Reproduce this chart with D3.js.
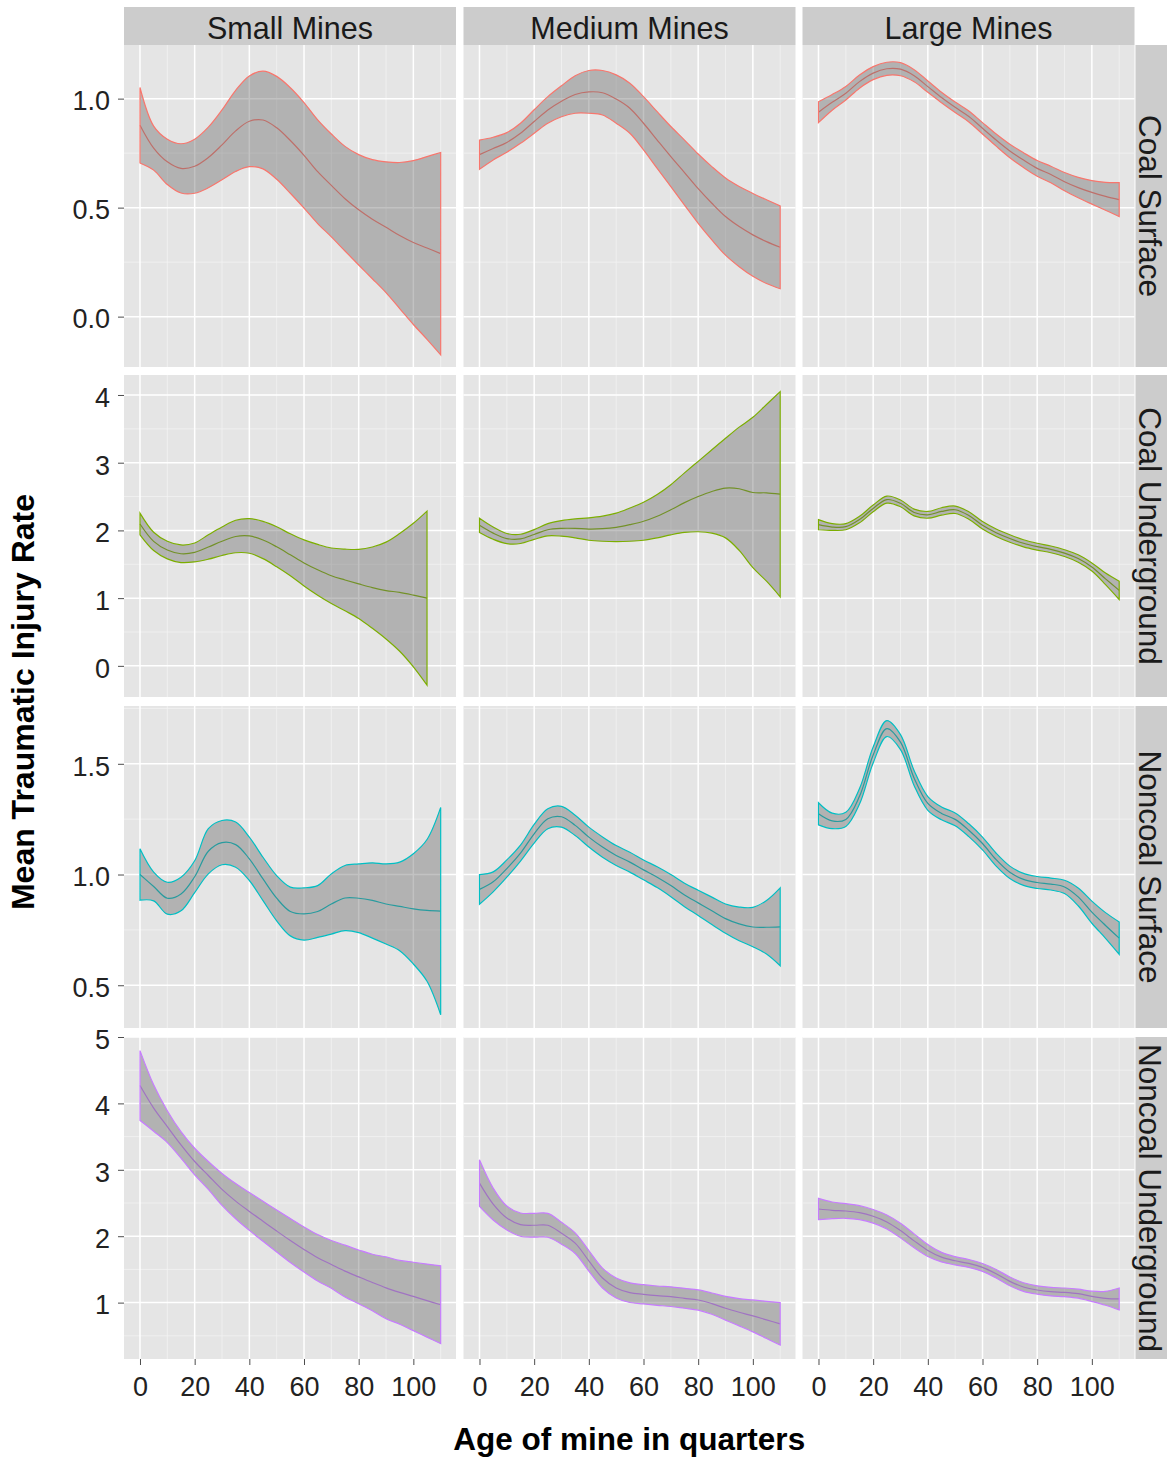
<!DOCTYPE html>
<html>
<head>
<meta charset="utf-8">
<script src="https://cdn.jsdelivr.net/npm/d3@7"></script>
<style>
  body { margin: 0; background: #fff; }
  text { font-family: "Liberation Sans", Arial, sans-serif; }
</style>
</head>
<body>
<div id="chart"></div>
<script>
// Ages (quarters) the smooths were read at, every 5 quarters
var ages = d3.range(0, 111, 5);
// coal underground / small mines stops at 105
var agesShort = d3.range(0, 106, 5);

var sizes = ["Small Mines", "Medium Mines", "Large Mines"];
var mineTypes = ["Coal Surface", "Coal Underground", "Noncoal Surface", "Noncoal Underground"];
var typeColors = ["#F8766D", "#7CAE00", "#00BFC4", "#C77CFF"];

var xTicks = [0, 20, 40, 60, 80, 100];
var yTicks = [[0, 0.5, 1.0], [0, 1, 2, 3, 4], [0.5, 1.0, 1.5], [1, 2, 3, 4, 5]];
var yDomains = [[-0.231, 1.246], [-0.46, 4.295], [0.307, 1.761], [0.151, 5.0]];

// fitted mean rate + half width of the grey band
var coalSurfaceSmallFit  = [.878,.773,.71,.68,.69,.73,.788,.852,.896,.902,.866,.808,.74,.665,.602,.541,.49,.447,.41,.372,.34,.315,.289];
var coalSurfaceSmallBand = [.173,.101,.104,.113,.124,.139,.16,.186,.208,.224,.236,.242,.242,.238,.236,.24,.253,.273,.3,.335,.376,.419,.464];
var coalSurfaceMediumFit  = [.743,.771,.799,.841,.895,.948,.988,1.019,1.031,1.027,.998,.956,.887,.81,.734,.661,.587,.52,.459,.413,.375,.344,.318];
var coalSurfaceMediumBand = [.067,.052,.045,.046,.054,.061,.071,.086,.098,.102,.111,.115,.122,.13,.138,.149,.159,.168,.177,.184,.19,.192,.19];
var coalSurfaceLargeFit  = [.938,.983,1.025,1.078,1.117,1.137,1.135,1.105,1.055,1.005,.96,.918,.864,.81,.76,.718,.68,.652,.619,.592,.57,.552,.537];
var coalSurfaceLargeBand = [.048,.036,.031,.03,.03,.03,.03,.028,.026,.024,.024,.025,.026,.028,.031,.034,.036,.038,.042,.047,.054,.064,.078];

var coalUndergroundSmallFit  = [2.095,1.838,1.71,1.655,1.675,1.755,1.84,1.91,1.918,1.858,1.758,1.64,1.52,1.418,1.33,1.268,1.21,1.155,1.112,1.085,1.045,1.0];
var coalUndergroundSmallBand = [.16,.135,.13,.13,.14,.18,.21,.24,.255,.275,.295,.31,.34,.375,.41,.455,.51,.6,.715,.87,1.06,1.285];
var coalUndergroundMediumFit  = [2.075,1.96,1.88,1.875,1.94,2.01,2.03,2.03,2.02,2.025,2.045,2.085,2.135,2.21,2.305,2.41,2.5,2.575,2.625,2.615,2.56,2.555,2.535];
var coalUndergroundMediumBand = [.105,.09,.075,.068,.072,.09,.115,.14,.165,.185,.21,.245,.28,.32,.37,.44,.52,.615,.735,.91,1.11,1.305,1.515];
var coalUndergroundLargeFit  = [2.085,2.05,2.055,2.16,2.325,2.455,2.4,2.265,2.23,2.28,2.305,2.22,2.075,1.965,1.88,1.81,1.76,1.72,1.665,1.585,1.46,1.285,1.115];
var coalUndergroundLargeBand = [.075,.05,.045,.048,.05,.052,.05,.05,.05,.055,.055,.055,.055,.055,.055,.052,.05,.05,.05,.055,.06,.085,.135];

var noncoalSurfaceSmallFit  = [1.0,.946,.893,.912,.99,1.105,1.144,1.135,1.071,.98,.893,.833,.822,.833,.867,.894,.893,.883,.867,.856,.845,.838,.835];
var noncoalSurfaceSmallBand = [.116,.065,.072,.076,.072,.102,.1,.102,.098,.098,.102,.11,.118,.117,.136,.147,.155,.17,.181,.2,.249,.32,.468];
var noncoalSurfaceMediumFit  = [.933,.967,1.027,1.097,1.184,1.252,1.261,1.222,1.169,1.124,1.086,1.056,1.021,.988,.95,.908,.872,.836,.801,.777,.763,.762,.764];
var noncoalSurfaceMediumBand = [.067,.045,.039,.036,.042,.045,.047,.046,.045,.046,.045,.045,.045,.047,.05,.053,.057,.062,.066,.076,.089,.121,.176];
var noncoalSurfaceLargeFit  = [1.274,1.242,1.249,1.353,1.54,1.659,1.598,1.435,1.321,1.276,1.249,1.2,1.14,1.067,1.01,.978,.964,.957,.944,.899,.83,.77,.713];
var noncoalSurfaceLargeBand = [.05,.035,.032,.035,.036,.036,.034,.034,.031,.029,.029,.029,.029,.029,.028,.027,.027,.027,.03,.04,.05,.058,.073];

var noncoalUndergroundSmallFit  = [4.27,3.93,3.65,3.375,3.125,2.915,2.705,2.528,2.373,2.225,2.078,1.935,1.8,1.675,1.575,1.475,1.388,1.303,1.223,1.155,1.093,1.03,.968];
var noncoalUndergroundSmallBand = [.525,.35,.24,.2,.2,.21,.24,.265,.285,.3,.315,.33,.34,.35,.36,.39,.405,.425,.465,.48,.515,.55,.585];
var noncoalUndergroundMediumFit  = [2.8,2.485,2.275,2.175,2.165,2.165,2.045,1.895,1.63,1.37,1.22,1.15,1.125,1.105,1.09,1.065,1.04,.985,.915,.855,.8,.74,.68];
var noncoalUndergroundMediumBand = [.35,.24,.18,.175,.18,.18,.165,.155,.155,.15,.15,.148,.145,.145,.148,.15,.152,.16,.178,.205,.24,.28,.32];
var noncoalUndergroundLargeFit  = [2.41,2.39,2.38,2.355,2.3,2.215,2.085,1.93,1.785,1.685,1.63,1.59,1.53,1.435,1.32,1.235,1.19,1.165,1.155,1.135,1.095,1.065,1.055];
var noncoalUndergroundLargeBand = [.16,.125,.11,.105,.102,.105,.11,.105,.09,.072,.062,.06,.06,.064,.066,.065,.063,.064,.065,.067,.078,.105,.165];

// rows = mine type, cols = mine size
var fits = [
  [coalSurfaceSmallFit, coalSurfaceMediumFit, coalSurfaceLargeFit],
  [coalUndergroundSmallFit, coalUndergroundMediumFit, coalUndergroundLargeFit],
  [noncoalSurfaceSmallFit, noncoalSurfaceMediumFit, noncoalSurfaceLargeFit],
  [noncoalUndergroundSmallFit, noncoalUndergroundMediumFit, noncoalUndergroundLargeFit]
];
var bands = [
  [coalSurfaceSmallBand, coalSurfaceMediumBand, coalSurfaceLargeBand],
  [coalUndergroundSmallBand, coalUndergroundMediumBand, coalUndergroundLargeBand],
  [noncoalSurfaceSmallBand, noncoalSurfaceMediumBand, noncoalSurfaceLargeBand],
  [noncoalUndergroundSmallBand, noncoalUndergroundMediumBand, noncoalUndergroundLargeBand]
];

// Layout of the facet grid
var width = 1167, height = 1458;
var colLeft = [124, 463.5, 802.5];
var panelW = 332;
var rowTop = [45, 375, 706, 1037];
var panelH = 322;
var stripSize = 38;
var xDomain = [-5.85, 115.6];

var svg = d3.select("#chart")
  .append("svg")
  .attr("width", width)
  .attr("height", height);

rowTop.forEach(function(top, r) {
  var yScale = d3.scaleLinear()
    .domain(yDomains[r])
    .range([top + panelH, top]);

  // minor breaks half way between the majors, kept if inside the panel
  var step = yTicks[r][1] - yTicks[r][0];
  var yMinor = d3.range(yTicks[r][0] - step / 2, yTicks[r][yTicks[r].length - 1] + step, step)
    .filter(function(v) { return v >= yDomains[r][0] && v <= yDomains[r][1]; });
  var xMinor = d3.range(-10, 121, 20)
    .filter(function(v) { return v >= xDomain[0] && v <= xDomain[1]; });

  colLeft.forEach(function(left, c) {
    var xScale = d3.scaleLinear()
      .domain(xDomain)
      .range([left, left + panelW]);

    var g = svg.append("g").attr("class", "panel");

    g.append("rect")
      .attr("x", left).attr("y", top)
      .attr("width", panelW).attr("height", panelH)
      .attr("fill", "#E5E5E5");

    // minor grid
    g.selectAll(".hminor").data(yMinor).enter().append("line")
      .attr("x1", left).attr("x2", left + panelW)
      .attr("y1", function(d) { return yScale(d); })
      .attr("y2", function(d) { return yScale(d); })
      .attr("stroke", "#F2F2F2").attr("stroke-width", 0.8);
    g.selectAll(".vminor").data(xMinor).enter().append("line")
      .attr("y1", top).attr("y2", top + panelH)
      .attr("x1", function(d) { return xScale(d); })
      .attr("x2", function(d) { return xScale(d); })
      .attr("stroke", "#F2F2F2").attr("stroke-width", 0.8);

    // major grid
    g.selectAll(".hmajor").data(yTicks[r]).enter().append("line")
      .attr("x1", left).attr("x2", left + panelW)
      .attr("y1", function(d) { return yScale(d); })
      .attr("y2", function(d) { return yScale(d); })
      .attr("stroke", "#FFFFFF").attr("stroke-width", 1.5);
    g.selectAll(".vmajor").data(xTicks).enter().append("line")
      .attr("y1", top).attr("y2", top + panelH)
      .attr("x1", function(d) { return xScale(d); })
      .attr("x2", function(d) { return xScale(d); })
      .attr("stroke", "#FFFFFF").attr("stroke-width", 1.5);

    // smooth + confidence band
    var fit = fits[r][c];
    var band = bands[r][c];
    var xs = fit.length === ages.length ? ages : agesShort;
    var pts = fit.map(function(v, i) {
      return { age: xs[i], mid: v, lo: v - band[i], hi: v + band[i] };
    });

    var line = d3.line()
      .x(function(d) { return xScale(d.age); })
      .y(function(d) { return yScale(d.mid); })
      .curve(d3.curveCatmullRom);

    var area = d3.area()
      .x(function(d) { return xScale(d.age); })
      .y0(function(d) { return yScale(d.lo); })
      .y1(function(d) { return yScale(d.hi); })
      .curve(d3.curveCatmullRom);

    g.append("path")
      .datum(pts)
      .attr("d", line)
      .attr("fill", "none")
      .attr("stroke", typeColors[r])
      .attr("stroke-width", 1.2);

    // ribbon drawn on top of the line, which is why the line looks darker
    g.append("path")
      .datum(pts)
      .attr("d", area)
      .attr("fill", "rgba(102,102,102,0.4)")
      .attr("stroke", typeColors[r])
      .attr("stroke-width", 1.2);

    // y axis only on first column
    if (c === 0) {
      var yAxis = d3.axisLeft(yScale)
        .tickValues(yTicks[r])
        .tickSize(6)
        .tickPadding(8)
        .tickFormat(r === 0 || r === 2 ? d3.format(".1f") : d3.format("d"));
      var ya = svg.append("g")
        .attr("transform", "translate(" + left + ",0)")
        .call(yAxis);
      ya.select(".domain").remove();
      ya.selectAll("line").attr("stroke", "#4D4D4D");
      ya.selectAll("text")
        .attr("dy", "0.42em")
        .style("font-size", "27px")
        .style("font-family", "'Liberation Sans', Arial, sans-serif")
        .attr("fill", "#222");
    }

    // x axis only on bottom row
    if (r === rowTop.length - 1) {
      var xAxis = d3.axisBottom(xScale)
        .tickValues(xTicks)
        .tickSize(6)
        .tickPadding(12);
      var xa = svg.append("g")
        .attr("transform", "translate(0," + (top + panelH) + ")")
        .call(xAxis);
      xa.select(".domain").remove();
      xa.selectAll("line").attr("stroke", "#4D4D4D");
      xa.selectAll("text")
        .style("font-size", "27px")
        .style("font-family", "'Liberation Sans', Arial, sans-serif")
        .attr("fill", "#222");
    }

    // column strips on top
    if (r === 0) {
      svg.append("rect")
        .attr("x", left).attr("y", top - stripSize)
        .attr("width", panelW).attr("height", stripSize)
        .attr("fill", "#CCCCCC");
      svg.append("text")
        .attr("x", left + panelW / 2)
        .attr("y", top - 6)
        .attr("text-anchor", "middle")
        .style("font-size", "30.5px")
        .attr("fill", "#1A1A1A")
        .text(sizes[c]);
    }
  });

  // row strips on the right (the window cuts them a bit, like the original)
  var stripX = colLeft[2] + panelW + 1;
  svg.append("rect")
    .attr("x", stripX).attr("y", top)
    .attr("width", stripSize).attr("height", panelH)
    .attr("fill", "#CCCCCC");
  svg.append("text")
    .attr("transform", "translate(" + (stripX + 3) + "," + (top + panelH / 2) + ")rotate(90)")
    .attr("text-anchor", "middle")
    .style("font-size", "31.5px")
    .attr("fill", "#1A1A1A")
    .text(mineTypes[r]);
});

// axis titles
svg.append("text")
  .attr("x", (colLeft[0] + colLeft[2] + panelW) / 2)
  .attr("y", 1450)
  .attr("text-anchor", "middle")
  .style("font-size", "31.5px")
  .style("font-weight", "bold")
  .attr("fill", "#000")
  .text("Age of mine in quarters");

svg.append("text")
  .attr("transform", "translate(34," + (rowTop[0] + rowTop[3] + panelH) / 2 + ")rotate(-90)")
  .attr("text-anchor", "middle")
  .style("font-size", "32px")
  .style("font-weight", "bold")
  .attr("fill", "#000")
  .text("Mean Traumatic Injury Rate");
</script>
</body>
</html>
